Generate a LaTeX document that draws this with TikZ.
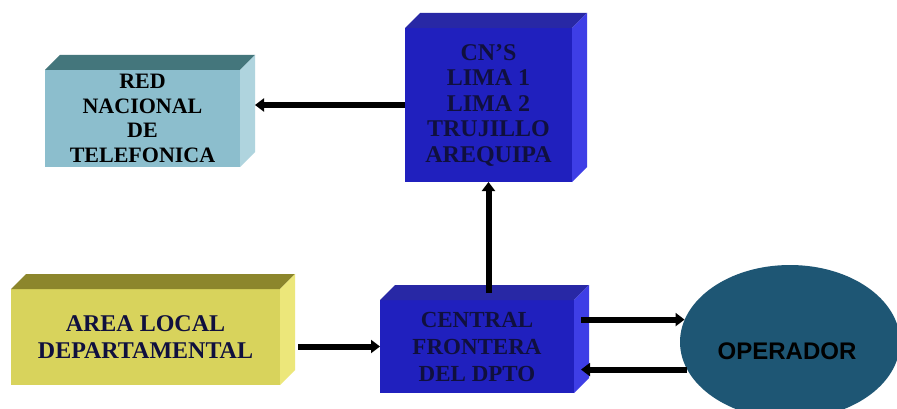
\documentclass[tikz,border=0pt]{standalone}
\usepackage{fontspec}
\setmainfont{Liberation Serif}
\newfontfamily\opfont{Liberation Sans}
\usetikzlibrary{shapes.geometric,arrows.meta,calc}

\definecolor{celeste}{RGB}{140,190,205}
\definecolor{celesteTop}{RGB}{68,118,124}
\definecolor{celesteLado}{RGB}{175,212,222}
\definecolor{azul}{RGB}{32,32,190}
\definecolor{azulTop}{RGB}{40,40,165}
\definecolor{azulLado}{RGB}{62,62,230}
\definecolor{amarillo}{RGB}{216,211,92}
\definecolor{amarilloTop}{RGB}{140,134,44}
\definecolor{amarilloLado}{RGB}{236,231,122}
\definecolor{petroleo}{RGB}{30,86,116}
\definecolor{tinta}{RGB}{16,16,62}

% caras superior y lateral de cada caja
\newcommand{\caras}[3]{%
  \fill[#2] (#1.north west) -- ++(15,-15) -- ($(#1.north east)+(15,-15)$)
    -- (#1.north east) -- cycle;
  \fill[#3] (#1.north east) -- ++(15,-15) -- ($(#1.south east)+(15,-15)$)
    -- (#1.south east) -- cycle;
}

\begin{document}
\begin{tikzpicture}[x=1pt, y=-1pt,
    caja/.style={rectangle, outer sep=0pt, inner sep=2pt, align=center,
      font=\bfseries\fontsize{22}{24.5}\selectfont},
    flecha/.style={line width=6pt, -{Triangle[length=9pt,width=13pt]}}
  ]

    \useasboundingbox (0,0) rectangle (897,409);
    \fill[white] (0,0) rectangle (897,409);

    \node [caja, fill=celeste, minimum width=195pt, minimum height=97pt]
      (red) at (142.5,118.5)
      { RED\\NACIONAL\\DE\\TELEFONICA } ;

    \node [caja, fill=azul, text=tinta, minimum width=167pt, minimum height=154pt,
      font=\bfseries\fontsize{24}{25.5}\selectfont]
      (cns) at (488.5,105)
      { CN'S\\LIMA 1\\LIMA 2\\TRUJILLO\\AREQUIPA } ;

    \node [caja, fill=amarillo, text=tinta, minimum width=269pt, minimum height=96pt,
      font=\bfseries\fontsize{24}{27}\selectfont]
      (area) at (145.5,337)
      { AREA LOCAL\\DEPARTAMENTAL } ;

    \node [caja, fill=azul, text=tinta, minimum width=194pt, minimum height=93pt,
      font=\bfseries\fontsize{23}{27}\selectfont]
      (central) at (477,346.5)
      { CENTRAL\\FRONTERA\\DEL DPTO } ;

    \caras{red}{celesteTop}{celesteLado}
    \caras{cns}{azulTop}{azulLado}
    \caras{area}{amarilloTop}{amarilloLado}
    \caras{central}{azulTop}{azulLado}

    \node [ellipse, fill=petroleo, minimum width=220pt, minimum height=154pt,
      inner sep=0pt,
      label={[yshift=-9pt, xshift=-3pt, font=\opfont\bfseries\fontsize{24}{26}\selectfont]center:OPERADOR}]
      (operador) at (790,342) {} ;

    \coordinate (salida) at ([xshift=7pt]central.east) ;

    \draw [flecha] (cns.west) -- ([xshift=15pt]red.east |- cns.west) ;
    \draw [flecha] ([yshift=7pt]cns.south |- central.north) -- (cns.south) ;
    \draw [flecha] ([xshift=18pt]area.east |- central.west) -- (central.west) ;
    \draw [flecha] (salida |- operador.168) -- (operador.168) ;
    \draw [flecha] (operador.195) -- (salida |- operador.195) ;

\end{tikzpicture}
\end{document}
